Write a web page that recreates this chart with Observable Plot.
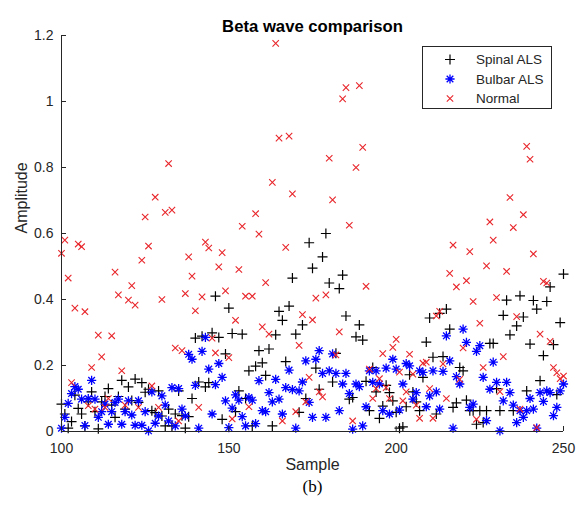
<!DOCTYPE html>
<html><head><meta charset="utf-8">
<script src="https://cdn.jsdelivr.net/npm/d3@7"></script>
<script src="https://cdn.jsdelivr.net/npm/@observablehq/plot@0.6"></script>
<style>body{margin:0;background:#fff}</style>
</head><body><div id="chart"></div>
<script>
const title = "Beta wave comparison";
const xLabel = "Sample";
const yLabel = "Amplitude";
const caption = "(b)";
const seriesNames = ["Spinal ALS", "Bulbar ALS", "Normal"];
const sampleStart = 100;
const xTicks = [100, 150, 200, 250];
const yTicks = [0, 0.2, 0.4, 0.6, 0.8, 1, 1.2];

// Spinal ALS, samples 100..250
const spinalALS = [
0.083,0.053,0.01,0.03,0.11,0.07,0.053,0.017,0.09,0.12,
0.06,0.008,0.09,0.106,0.13,0.08,0.043,0.106,0.155,0.068,
0.135,0.094,0.159,0.088,0.148,0.119,0.128,0.063,0.057,0.123,
0.047,0.017,0.068,0.017,0.053,0.123,0.048,0.01,0.045,0.10,
0.283,0.15,0.289,0.135,0.148,0.299,0.41,0.285,0.037,0.235,
0.374,0.297,0.06,0.123,0.295,0.10,0.184,0.017,0.198,0.245,
0.208,0.17,0.25,0.017,0.293,0.364,0.337,0.212,0.38,0.465,
0.295,0.058,0.323,0.10,0.572,0.495,0.192,0.128,0.529,0.6,
0.45,0.15,0.237,0.433,0.474,0.35,0.098,0.103,0.287,0.323,
0.277,0.152,0.063,0.194,0.12,0.04,0.077,0.14,0.118,0.093,
0.058,0.01,0.014,0.075,0.172,0.12,0.09,0.063,0.164,0.271,
0.344,0.225,0.053,0.358,0.227,0.371,0.31,0.073,0.087,0.194,
0.184,0.095,0.063,0.063,0.022,0.063,0.027,0.063,0.267,0.267,
0.13,0.063,0.352,0.398,0.293,0.063,0.32,0.411,0.347,0.123,
0.265,0.397,0.371,0.154,0.23,0.394,0.438,0.263,0.112,0.33,
0.477];

// Bulbar ALS, samples 100..250
const bulbarALS = [
0.01,0.043,0.085,0.115,0.136,0.128,0.098,0.018,0.10,0.155,
0.098,0.043,0.06,0.083,0.022,0.06,0.088,0.098,0.022,0.06,
0.093,0.05,0.019,0.093,0.019,0.06,0.002,0.12,0.025,0.047,
0.108,0.08,0.032,0.133,0.017,0.13,0.068,0.047,0.234,0.219,
0.14,0.010,0.243,0.285,0.189,0.053,0.142,0.206,0.164,0.093,
0.012,0.071,0.111,0.095,0.045,0.017,0.103,0.095,0.024,0.154,
0.063,0.06,0.118,0.09,0.158,0.098,0.053,0.133,0.186,0.127,
0.010,0.123,0.15,0.214,0.088,0.043,0.219,0.245,0.176,0.043,
0.184,0.235,0.176,0.063,0.144,0.176,0.115,0.007,0.144,0.136,
0.017,0.075,0.184,0.149,0.184,0.144,0.063,0.192,0.053,0.219,
0.189,0.065,0.144,0.206,0.199,0.098,0.118,0.184,0.179,0.075,
0.108,0.184,0.120,0.068,0.182,0.290,0.214,0.010,0.166,0.144,
0.310,0.270,0.073,0.083,0.243,0.260,0.164,0.033,0.128,0.21,
0.149,0.002,0.093,0.149,0.118,0.08,0.027,0.063,0.043,0.063,
0.10,0.068,0.010,0.118,0.091,0.123,0.118,0.048,0.073,0.123,
0.144];

// Normal, samples 100..250
const normal = [
0.54,0.58,0.465,0.148,0.374,0.568,0.56,0.363,0.078,0.194,
0.068,0.292,0.226,0.073,0.10,0.29,0.483,0.414,0.184,0.08,
0.398,0.442,0.383,0.073,0.519,0.65,0.562,0.138,0.71,0.073,
0.40,0.664,0.812,0.671,0.253,0.032,0.245,0.418,0.529,0.471,
0.366,0.073,0.408,0.574,0.556,0.283,0.238,0.499,0.542,0.426,
0.224,0.038,0.337,0.491,0.622,0.41,0.075,0.41,0.66,0.598,
0.317,0.451,0.295,0.755,1.176,0.889,0.032,0.558,0.895,0.72,
0.06,0.261,0.354,0.09,0.164,0.338,0.404,0.12,0.105,0.414,
0.828,0.702,0.232,0.302,1.008,1.042,0.625,0.032,0.80,1.048,
0.861,0.44,0.189,0.10,0.13,0.16,0.236,0.133,0.10,0.255,
0.279,0.18,0.093,0.12,0.234,0.174,0.08,0.04,0.207,0.21,
0.13,0.04,0.35,0.364,0.205,0.10,0.479,0.565,0.438,0.158,
0.253,0.457,0.545,0.394,0.037,0.328,0.194,0.502,0.635,0.58,
0.406,0.121,0.227,0.485,0.709,0.618,0.348,0.068,0.657,0.864,
0.825,0.538,0.012,0.295,0.455,0.45,0.273,0.194,0.178,0.16,
0.168];

const toPoints = (vals) => vals.map((v, i) => ({sample: sampleStart + i, amp: v}));

// MATLAB-like marker shapes
const plusSym = {draw(ctx, size) {const r = Math.sqrt(size / Math.PI);
  ctx.moveTo(-r, 0); ctx.lineTo(r, 0); ctx.moveTo(0, -r); ctx.lineTo(0, r);}};
const timesSym = {draw(ctx, size) {const r = Math.sqrt(size / Math.PI);
  ctx.moveTo(-r, -r); ctx.lineTo(r, r); ctx.moveTo(-r, r); ctx.lineTo(r, -r);}};
const starSym = {draw(ctx, size) {const r = Math.sqrt(size / Math.PI), d = r * 0.72;
  ctx.moveTo(-r, 0); ctx.lineTo(r, 0); ctx.moveTo(0, -r); ctx.lineTo(0, r);
  ctx.moveTo(-d, -d); ctx.lineTo(d, d); ctx.moveTo(-d, d); ctx.lineTo(d, -d);}};

const colors = ["#000000", "#0000ff", "#e8262b"];
const syms = [plusSym, starSym, timesSym];
const radii = [5, 4.6, 3.2];
const widths = [1.2, 1.3, 1.1];
const axisColor = "#262626";

const chart = Plot.plot({
  width: 576, height: 506,
  marginLeft: 61, marginRight: 13, marginTop: 35, marginBottom: 75,
  style: {fontFamily: "'Liberation Sans', Arial, sans-serif", background: "#fff", color: axisColor},
  x: {domain: [xTicks[0], xTicks[xTicks.length - 1]]},
  y: {domain: [yTicks[0], yTicks[yTicks.length - 1]]},
  marks: [
    Plot.dot(toPoints(spinalALS), {x: "sample", y: "amp", symbol: syms[0], r: radii[0], stroke: colors[0], strokeWidth: widths[0], fill: "none"}),
    Plot.dot(toPoints(bulbarALS), {x: "sample", y: "amp", symbol: syms[1], r: radii[1], stroke: colors[1], strokeWidth: widths[1], fill: "none"}),
    Plot.dot(toPoints(normal), {x: "sample", y: "amp", symbol: syms[2], r: radii[2], stroke: colors[2], strokeWidth: widths[2], fill: "none"}),
    Plot.ruleX([xTicks[0]], {stroke: axisColor}),
    Plot.ruleY([yTicks[0]], {stroke: axisColor}),
    Plot.axisX({ticks: xTicks, tickSize: -5, tickPadding: 17, fontSize: 14, label: null, tickFormat: d => String(d)}),
    Plot.axisY({ticks: yTicks, tickSize: -5, tickPadding: 13, fontSize: 14, label: null, tickFormat: d => String(d)}),
    Plot.text([xLabel], {frameAnchor: "bottom", dy: 38, fontSize: 16, fill: axisColor}),
    Plot.text([yLabel], {frameAnchor: "left", dx: -40, rotate: -90, fontSize: 16, fill: axisColor}),
    Plot.text([title], {frameAnchor: "top", dy: -15, fontSize: 16.7, fontWeight: "bold", fill: "#000"}),
    Plot.text([caption], {frameAnchor: "bottom", dy: 60, fontSize: 17, fontFamily: "'Liberation Serif', 'Times New Roman', serif", fill: "#000"})
  ]
});
document.getElementById("chart").appendChild(chart);

// Legend box (inside the axes, upper right)
const svg = d3.select(chart);
const lg = svg.append("g").attr("font-family", "'Liberation Sans', Arial, sans-serif")
  .attr("font-size", 13.5).attr("text-anchor", "start");
lg.append("rect").attr("x", 422.5).attr("y", 46.5).attr("width", 129).attr("height", 62)
  .attr("fill", "#fff").attr("stroke", axisColor).attr("stroke-width", 1);
const rowY = [59.5, 79, 98.5];
seriesNames.forEach((name, i) => {
  lg.append("path").attr("transform", `translate(450,${rowY[i]})`)
    .attr("d", d3.symbol(syms[i], Math.PI * radii[i] * radii[i])())
    .attr("fill", "none").attr("stroke", colors[i]).attr("stroke-width", widths[i]);
  lg.append("text").attr("x", 476).attr("y", rowY[i]).attr("dy", "0.35em")
    .attr("text-anchor", "start").attr("fill", axisColor).text(name);
});
</script>
</body></html>
